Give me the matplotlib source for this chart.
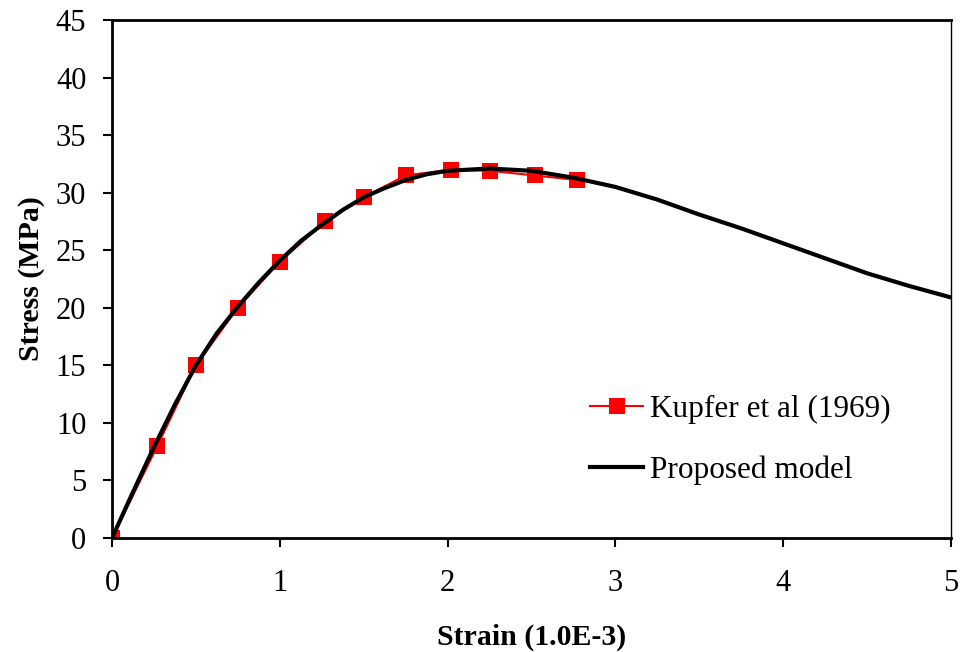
import numpy as np
import matplotlib.pyplot as plt

plt.rcParams['font.family'] = ['Liberation Serif', 'DejaVu Serif']

# Kupfer et al (1969) test data
kupfer_strain = [0, 0.27, 0.5, 0.75, 1.0, 1.27, 1.5, 1.75, 2.02, 2.25, 2.52, 2.77]
kupfer_stress = [0, 8.0, 15.0, 20.0, 24.0, 27.5, 29.6, 31.5, 32.0, 31.9, 31.5, 31.1]

# proposed model curve
model_strain = [0, 0.125, 0.25, 0.375, 0.5, 0.625, 0.75, 0.875, 1.0, 1.125, 1.25, 1.375,
                1.5, 1.625, 1.75, 1.875, 2.0, 2.25, 2.5, 2.75, 3.0, 3.25, 3.5, 3.75, 4.0,
                4.25, 4.5, 4.75, 5.0]
model_stress = [0, 4.0, 7.9, 11.6, 15.0, 17.8, 20.1, 22.2, 24.1, 25.8, 27.2, 28.5,
                29.6, 30.4, 31.1, 31.6, 31.9, 32.1, 31.9, 31.3, 30.5, 29.4, 28.1, 26.9,
                25.6, 24.3, 23.0, 21.9, 20.9]

fig = plt.figure(figsize=(9.64, 6.52), dpi=100)
ax = fig.add_axes([0.1162, 0.1748, 0.8703, 0.7945])

ax.plot(kupfer_strain, kupfer_stress, color='red', lw=1.5, marker='s',
        markersize=11, markeredgewidth=0, label='Kupfer et al (1969)', zorder=2)
ax.plot(model_strain, model_stress, color='black', lw=3, label='Proposed model', zorder=3)

ax.set_xlim(0, 5)
ax.set_ylim(0, 45)
ax.set_xticks(np.arange(0, 6, 1))
ax.set_yticks(np.arange(0, 46, 5))

for side in ['left', 'bottom', 'top']:
    ax.spines[side].set_linewidth(2)
ax.spines['right'].set_linewidth(1)

ax.tick_params(axis='both', direction='out', length=6.5, width=1.5, labelsize=22)
ax.tick_params(axis='x', pad=16)
ax.tick_params(axis='y', pad=12)

ax.set_xlabel('Strain (1.0E-3)', fontsize=21.5, fontweight='bold', labelpad=18)
ax.set_ylabel('Stress (MPa)', fontsize=21.5, fontweight='bold', labelpad=8)

ax.legend(loc='center left', bbox_to_anchor=(0.555, 0.189), borderaxespad=0,
          frameon=False, fontsize=22.5, handlelength=1.7, handletextpad=0.2,
          labelspacing=1.0)

fig.savefig('out.png', dpi=100)
